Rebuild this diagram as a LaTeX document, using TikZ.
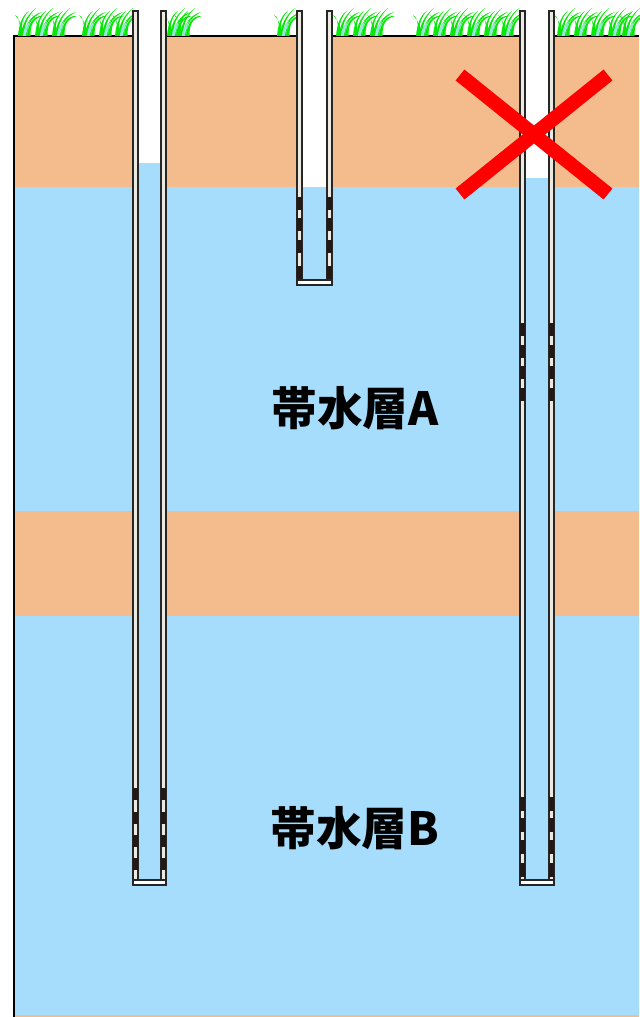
\documentclass[tikz,border=0pt]{standalone}
\usepackage{fontspec}
\newfontfamily\cjk{Noto Sans CJK JP}
\definecolor{soil}{RGB}{244,188,140}
\definecolor{aquifer}{RGB}{166,220,252}
\definecolor{casing}{RGB}{236,233,224}
\definecolor{screendark}{RGB}{35,24,21}
\definecolor{grassgreen}{RGB}{10,230,10}
\definecolor{grasslight}{RGB}{150,230,220}
\tikzset{soillayer/.style={fill=soil}}
\tikzset{waterlayer/.style={fill=aquifer}}
\tikzset{wall/.style={fill=casing, draw=black!85, line width=0.6pt}}
\tikzset{slot/.style={fill=screendark}}
\tikzset{blade/.style={fill=grassgreen}}
\tikzset{layerlabel/.style={font=\cjk\bfseries\fontsize{26}{30}\selectfont}}
% one well: left x, right x, bottom y, water level y
\newcommand\well[4]{
  \fill[white] (#1,11) rectangle (#2,#4);
  \fill[aquifer] (#1,#4) rectangle (#2,#3);
  \draw[wall] (#1,11) rectangle ($(#1,#3)+(5,0)$);
  \draw[wall] ($(#2,11)-(5,0)$) rectangle (#2,#3);
  \draw[wall, fill=white] (#1,#3) rectangle ($(#2,#3)+(0,5)$);
}
% slotted part of the casing: left x, right x, list of slot tops, slot height
\newcommand\screen[4]{
  \foreach \sy in {#3} {
    \fill[slot] (#1,\sy) rectangle ($(#1,\sy)+(5,#4)$);
    \fill[slot] ($(#2,\sy)-(5,0)$) rectangle ($(#2,\sy)+(0,#4)$);
  }
}
\usetikzlibrary{calc}

\begin{document}
\begin{tikzpicture}[x=0.02cm, y=-0.02cm]
  \useasboundingbox (0,0) rectangle (639,1017);
  % ground layers
  \fill[soillayer] (14,36) rectangle (639,187);
  \fill[waterlayer] (14,187) rectangle (639,511);
  \fill[soillayer] (14,511) rectangle (639,616);
  \fill[waterlayer] (14,616) rectangle (639,1015);
  \fill[soillayer] (14,1015) rectangle (639,1017);
  \draw[line width=1.4pt] (639,36) -- (14,36) -- (14,1017);
  % grass on the surface
  \foreach \gx in {18,35,52,82,99,115,167,177,277,336,353,370,416,433,450,467,484,501,557,574,591,608,622} {
    \foreach \dx/\tx/\ty in {0/11/11, 3/15/8, 6/18/12, 9/16/16, 2/-5/15} {
      \fill[blade] (\gx+\dx,36) .. controls (\gx+\dx+1,24) and (\gx+\dx+\tx*0.4,15) .. (\gx+\dx+\tx,\ty)
        .. controls (\gx+\dx+\tx*0.3,19) and (\gx+\dx+3.5,26) .. (\gx+\dx+3.5,36) -- cycle;
    }
    \fill[grasslight] (\gx+5,36) .. controls (\gx+6,28) .. (\gx+12,21)
      .. controls (\gx+9,28) .. (\gx+7.5,36) -- cycle;
  }
  % wells
  \well{133}{166}{880}{163}
  \screen{133}{166}{788,812,835,858}{12}
  \well{297}{332}{280}{187}
  \screen{297}{332}{197,218,240,266}{13}
  \well{520}{554}{880}{178}
  \screen{520}{554}{323,345,366,388}{13}
  \screen{520}{554}{797,818,840,863}{14}
  % labels
  \node[layerlabel] (aquiferA) at (355,408) {帯水層A};
  \node[layerlabel] (aquiferB) at (355,828) {帯水層B};
  % cross over the third well
  \draw[red, line width=8pt] (460,75) -- (608,194);
  \draw[red, line width=8pt] (460,194) -- (608,75);
\end{tikzpicture}
\end{document}
